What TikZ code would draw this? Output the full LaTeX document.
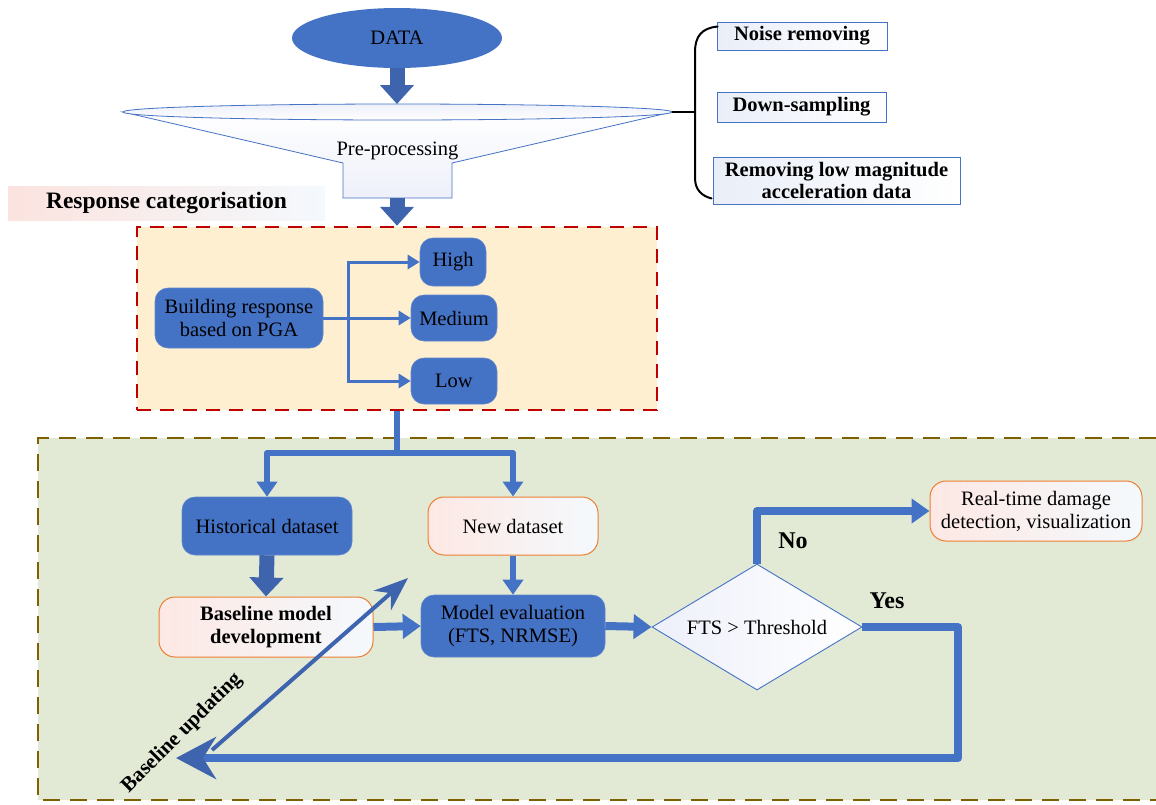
\documentclass[tikz,border=0pt]{standalone}
\usepackage{fontspec}
\setmainfont{Liberation Serif}
\usetikzlibrary{arrows.meta,shapes.geometric,calc}

\definecolor{mblue}{HTML}{4472C4}
\definecolor{dblue}{HTML}{3F64AE}
\definecolor{orng}{HTML}{ED7D31}
\definecolor{redd}{HTML}{C00000}
\definecolor{olivebrown}{HTML}{7F6000}
\definecolor{cream}{HTML}{FEEFD0}
\definecolor{sage}{HTML}{E2EAD5}
\definecolor{pinkish}{HTML}{FDE8E4}
\definecolor{iceblue}{HTML}{F4F9FD}
\definecolor{listfill}{HTML}{E9EEF8}
\definecolor{funfill}{HTML}{EEF0FA}
\definecolor{headpink}{HTML}{FBE3DF}

\begin{document}
\begin{tikzpicture}[x=1pt,y=-1pt,
  every node/.style={font=\fontsize{20.5}{23}\selectfont, text=black},
  bluebox/.style={rounded corners=13pt, fill=mblue, draw=mblue!85!white, line width=0.6pt,
                  align=center, inner sep=0pt},
  pinkbox/.style={rounded corners=16pt, draw=orng, line width=1pt, left color=pinkish,
                  right color=iceblue, align=center, inner sep=0pt},
  listbox/.style={draw=mblue, line width=0.9pt, left color=listfill, right color=white,
                  align=center, inner sep=0pt, font=\fontsize{20.5}{22}\selectfont\bfseries},
  link/.style={mblue, line width=3pt, -{Triangle[width=14pt,length=12pt]}},
  flow/.style={mblue, line width=6pt, line join=round, -{Triangle[width=20pt,length=15pt]}},
  wide/.style={mblue, line width=8pt, line join=round, -{Triangle[width=24pt,length=18pt]}},
  block/.style={dblue, line width=15pt, -{Triangle[width=33pt,length=19pt]}},
  verdict/.style={font=\fontsize{24}{26}\selectfont\bfseries}
]
\useasboundingbox (0,0) rectangle (1156,804);
\fill[white] (0,0) rectangle (1156,804);

% ---------- lower panel: model evaluation loop ----------
\fill[sage] (38,438) rectangle (1156,800);
\draw[olivebrown, line width=2.5pt, dash pattern=on 17pt off 10pt]
  (1156,438) -- (38,438) -- (38,800) -- (1156,800);

% ---------- source and pre-processing funnel ----------
\node[ellipse, fill=mblue, minimum width=210pt, minimum height=60pt, inner sep=0pt]
  (data) at (397,38) {DATA};

\coordinate (funtop) at (397,104);
\coordinate (funbot) at (397,198);
\draw[mblue, line width=0.8pt, top color=white, bottom color=funfill]
  (123,112) -- (343,163) -- (343,198) -- (452,198) -- (452,163) -- (672,112) -- cycle;
\draw[mblue, line width=0.8pt, top color=funfill, bottom color=white]
  (397.5,112) ellipse [x radius=274.5pt, y radius=8pt];
\node (pre) at (397.5,151) {Pre-processing};

\draw[block] (data.south) -- (funtop);

% ---------- pre-processing steps ----------
\node[listbox, minimum width=170pt, minimum height=28pt] (noise) at (802,36) {Noise removing};
\node[listbox, minimum width=169pt, minimum height=30pt] (down) at (801.5,107) {Down-sampling};
\node[listbox, minimum width=247pt, minimum height=47pt] (lowmag) at (836.5,180.5)
  {Removing low magnitude\\acceleration data};

\coordinate (brace) at (672,112);
\draw[black, line width=2pt] (brace) -- (695,112);
\draw[black, line width=2pt, line cap=round]
  ($(noise.north west)+(1,5)$) .. controls (702,28) and (695,36) .. (695,52) -- (695,178)
  .. controls (695,190) and (702,196) .. ($(lowmag.south west)+(-1,-6)$);

% ---------- response categorisation ----------
\node[font=\fontsize{23.5}{26}\selectfont\bfseries, left color=headpink, right color=iceblue,
      minimum width=317pt, minimum height=34pt, inner sep=0pt]
  (rc) at (166.5,203) {Response categorisation};

\node[draw=redd, dash pattern=on 14pt off 9pt, line width=2.5pt, fill=cream,
      minimum width=520pt, minimum height=183pt, inner sep=0pt] (cat) at (397,318.5) {};

\draw[block] (funbot) -- (cat.north);

\node[bluebox, minimum width=168pt, minimum height=60pt] (bldg) at (239,318)
  {Building response\\based on PGA};
\node[bluebox, minimum width=66pt, minimum height=48pt] (high) at (453,262) {High};
\node[bluebox, minimum width=86pt, minimum height=46pt] (med) at (454,318) {Medium};
\node[bluebox, minimum width=86pt, minimum height=46pt] (low) at (454,381) {Low};

\coordinate (fork) at (348,318);
\draw[mblue, line width=3pt] (bldg.east) -- (fork);
\draw[link] (fork) |- (high.west);
\draw[link] (fork) -- (med.west);
\draw[link] (fork) |- (low.west);

% ---------- datasets ----------
\node[bluebox, minimum width=170pt, minimum height=58pt] (hist) at (267,526) {Historical dataset};
\node[pinkbox, minimum width=170pt, minimum height=58pt] (new) at (513,526) {New dataset};

\coordinate (split) at (397,453);
\draw[mblue, line width=6pt, line join=round] (cat.south) -- (split);
\draw[flow] (split) -| (hist.north);
\draw[flow] (split) -| (new.north);

\node[pinkbox, minimum width=214pt, minimum height=60pt,
      font=\fontsize{20.5}{23}\selectfont\bfseries] (base) at (266,627)
  {Baseline model\\development};
\node[bluebox, minimum width=184pt, minimum height=62pt] (eval) at (513,626)
  {Model evaluation\\(FTS, NRMSE)};

\draw[block] (hist.south) -- (base.north);
\draw[flow] (new.south) -- (eval.north);
\draw[wide] (base.east) -- (eval.west);

% ---------- decision ----------
\node[diamond, aspect=1.667, minimum width=210pt, minimum height=126pt, inner sep=0pt,
      draw=mblue, line width=0.9pt, left color=funfill, right color=white] (dec) at (757,627)
  {FTS > Threshold};
\draw[wide] (eval.east) -- (dec.west);

\node[pinkbox, minimum width=212pt, minimum height=60pt] (rt) at (1036,511)
  {Real-time damage\\detection, visualization};

\coordinate (nobend) at (757,511);
\draw[wide] (dec.north) -- (nobend) -- (rt.west);
\node[verdict] (no) at (793,541) {No};

\coordinate (loopend) at (176,758);
\draw[mblue, line width=8pt, line join=round,
      -{Stealth[width=42pt,length=40pt,inset=13pt,color=dblue]}]
  (dec.east) -- (958,627) -- (958,758) -- (loopend);
\node[verdict] (yes) at (887,601) {Yes};

% ---------- baseline update ----------
\coordinate (upd0) at (212,750);
\coordinate (upd1) at (408,578);
\draw[dblue, line width=4pt, -{Stealth[width=26pt,length=34pt,inset=11pt]}] (upd0) -- (upd1);
\node[rotate=45, font=\fontsize{21}{23}\selectfont\bfseries] (updlabel) at (182,733)
  {Baseline updating};
\end{tikzpicture}
\end{document}
